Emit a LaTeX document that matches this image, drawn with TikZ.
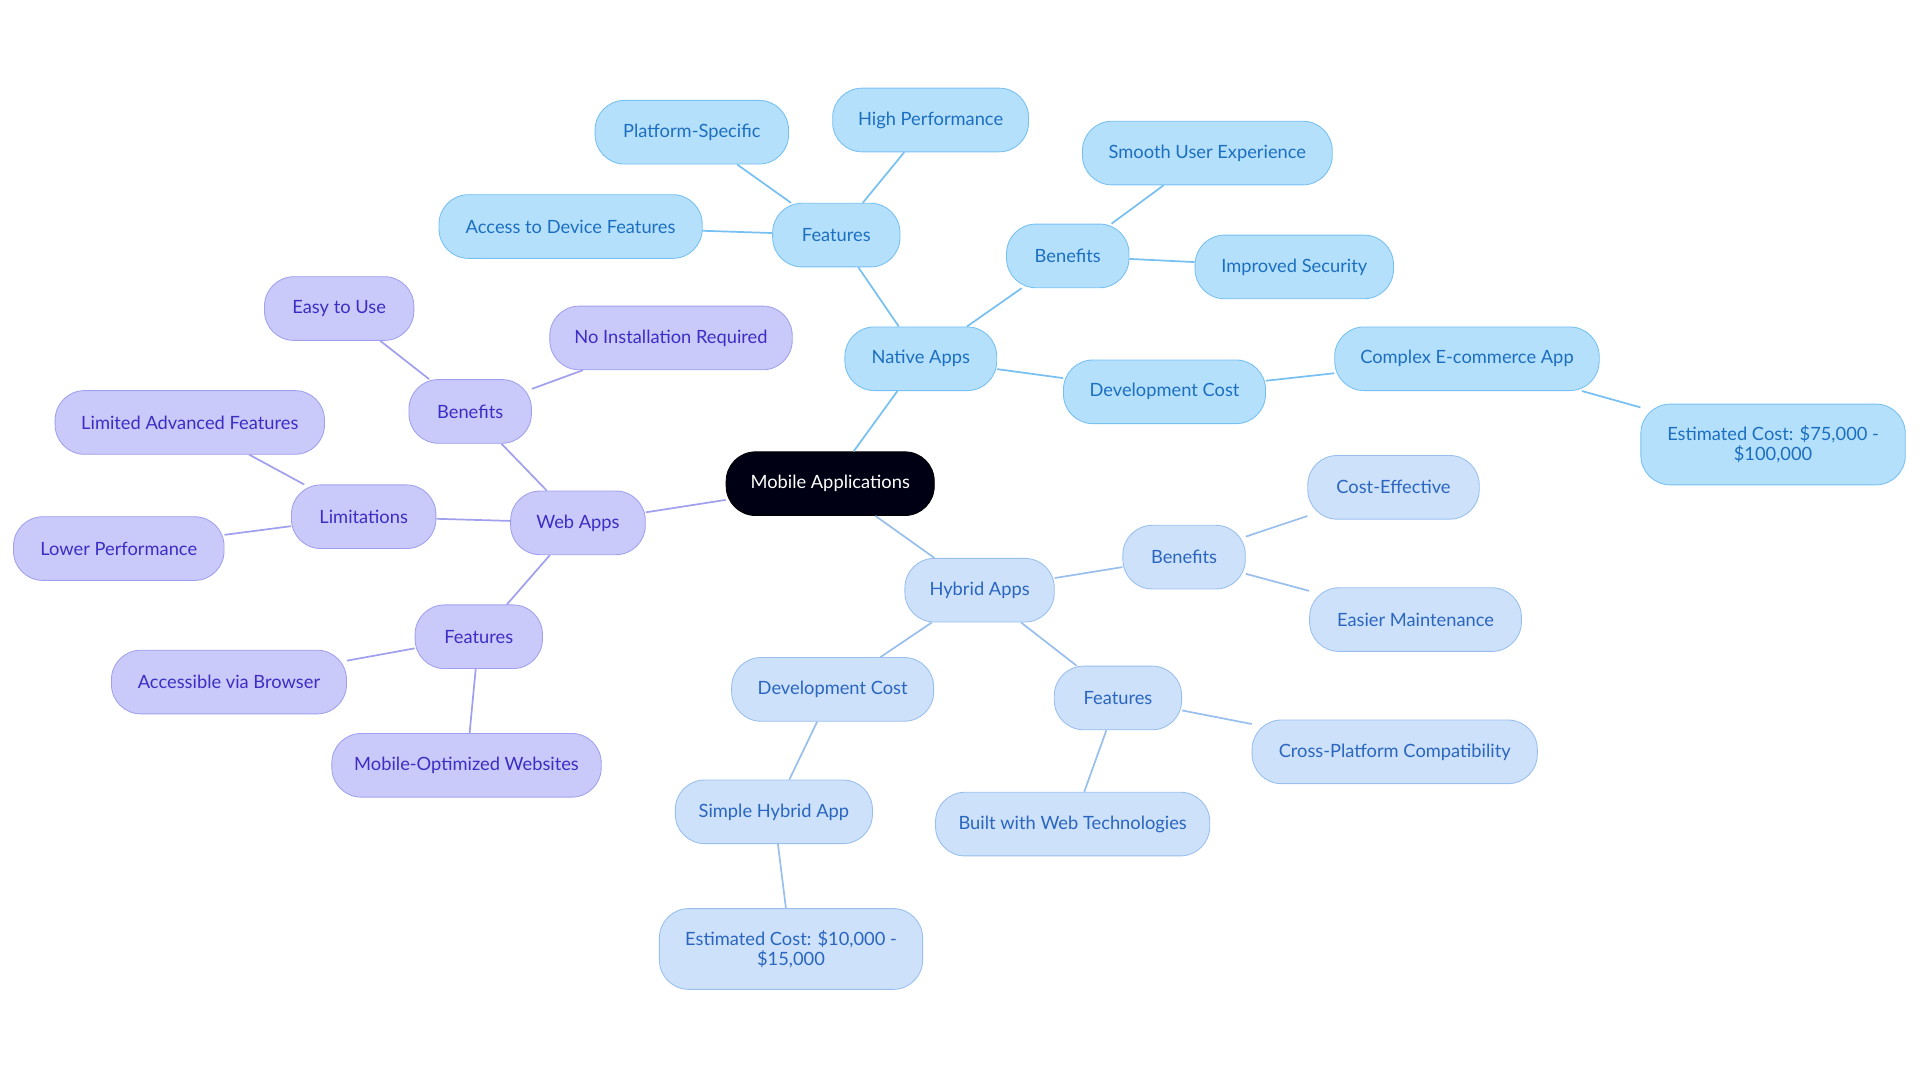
\documentclass[tikz,border=0pt]{standalone}
\usepackage{fontspec}
\setmainfont{Lato}
\definecolor{natfill}{HTML}{B5E0FC}
\definecolor{natline}{HTML}{76C0F2}
\definecolor{nattext}{HTML}{1C6FC0}
\definecolor{hybfill}{HTML}{CDE1FA}
\definecolor{hybline}{HTML}{98BFEE}
\definecolor{hybtext}{HTML}{2A66C0}
\definecolor{webfill}{HTML}{CACAFA}
\definecolor{webline}{HTML}{A0A0EE}
\definecolor{webtext}{HTML}{3A2EC4}
\begin{document}
\begin{tikzpicture}[x=0.02cm,y=-0.02cm,
    box/.style={draw,rounded corners=0.48cm,minimum height=1.04cm,align=center,
      font=\fontsize{8.5}{9.5}\selectfont,inner xsep=0pt},
    nat/.style={box,fill=natfill,draw=natline,text=nattext},
    hyb/.style={box,fill=hybfill,draw=hybline,text=hybtext},
    web/.style={box,fill=webfill,draw=webline,text=webtext},
    natl/.style={natline,thick},
    hybl/.style={hybline,thick},
    webl/.style={webline,thick}]
  \useasboundingbox (0,0) rectangle (1568,884);
  \node[box,fill=black!92!blue,text=white,minimum width=3.4cm] (root) at (678,395) {Mobile Applications};
  % native apps
  \node[nat,minimum width=2.48cm] (native) at (752,293) {Native Apps};
  \node[nat,minimum width=2.08cm] (nfeat) at (683,192) {Features};
  \node[nat,minimum width=3.16cm] (platform) at (565,108) {Platform-Specific};
  \node[nat,minimum width=3.2cm] (perf) at (760,98) {High Performance};
  \node[nat,minimum width=4.3cm] (device) at (466,185) {Access to Device Features};
  \node[nat,minimum width=2cm] (nben) at (872,209) {Benefits};
  \node[nat,minimum width=4.08cm] (smooth) at (986,125) {Smooth User Experience};
  \node[nat,minimum width=3.24cm] (secure) at (1057,218) {Improved Security};
  \node[nat,minimum width=3.3cm] (ncost) at (951,320) {Development Cost};
  \node[nat,minimum width=4.32cm] (complex) at (1198,293) {Complex E-commerce App};
  \node[nat,minimum width=4.32cm,minimum height=1.32cm] (nest) at (1448,363) {Estimated Cost: \$75,000 -\\\$100,000};
  % web apps
  \node[web,minimum width=2.2cm] (webapps) at (472,427) {Web Apps};
  \node[web,minimum width=2cm] (wben) at (384,336) {Benefits};
  \node[web,minimum width=2.44cm] (easy) at (277,252) {Easy to Use};
  \node[web,minimum width=3.96cm] (noinst) at (548,276) {No Installation Required};
  \node[web,minimum width=2.36cm] (limits) at (297,422) {Limitations};
  \node[web,minimum width=4.4cm] (limadv) at (155,345) {Limited Advanced Features};
  \node[web,minimum width=3.44cm] (lowperf) at (97,448) {Lower Performance};
  \node[web,minimum width=2.08cm] (wfeat) at (391,520) {Features};
  \node[web,minimum width=3.84cm] (browser) at (187,557) {Accessible via Browser};
  \node[web,minimum width=4.4cm] (mobopt) at (381,625) {Mobile-Optimized Websites};
  % hybrid apps
  \node[hyb,minimum width=2.44cm] (hybrid) at (800,482) {Hybrid Apps};
  \node[hyb,minimum width=2cm] (hben) at (967,455) {Benefits};
  \node[hyb,minimum width=2.8cm] (costeff) at (1138,398) {Cost-Effective};
  \node[hyb,minimum width=3.46cm] (maint) at (1156,506) {Easier Maintenance};
  \node[hyb,minimum width=2.08cm] (hfeat) at (913,570) {Features};
  \node[hyb,minimum width=4.66cm] (cross) at (1139,614) {Cross-Platform Compatibility};
  \node[hyb,minimum width=4.48cm] (webtech) at (876,673) {Built with Web Technologies};
  \node[hyb,minimum width=3.3cm] (hcost) at (680,563) {Development Cost};
  \node[hyb,minimum width=3.22cm] (simple) at (632,663) {Simple Hybrid App};
  \node[hyb,minimum width=4.3cm,minimum height=1.32cm] (hest) at (646,775) {Estimated Cost: \$10,000 -\\\$15,000};
  % connectors
  \draw[natl] (root) -- (native);
  \draw[natl] (native) -- (nfeat);
  \draw[natl] (nfeat) -- (platform);
  \draw[natl] (nfeat) -- (perf);
  \draw[natl] (nfeat) -- (device);
  \draw[natl] (native) -- (nben);
  \draw[natl] (nben) -- (smooth);
  \draw[natl] (nben) -- (secure);
  \draw[natl] (native) -- (ncost);
  \draw[natl] (ncost) -- (complex);
  \draw[natl] (complex) -- (nest);
  \draw[webl] (root) -- (webapps);
  \draw[webl] (webapps) -- (wben);
  \draw[webl] (wben) -- (easy);
  \draw[webl] (wben) -- (noinst);
  \draw[webl] (webapps) -- (limits);
  \draw[webl] (limits) -- (limadv);
  \draw[webl] (limits) -- (lowperf);
  \draw[webl] (webapps) -- (wfeat);
  \draw[webl] (wfeat) -- (browser);
  \draw[webl] (wfeat) -- (mobopt);
  \draw[hybl] (root) -- (hybrid);
  \draw[hybl] (hybrid) -- (hben);
  \draw[hybl] (hben) -- (costeff);
  \draw[hybl] (hben) -- (maint);
  \draw[hybl] (hybrid) -- (hfeat);
  \draw[hybl] (hfeat) -- (cross);
  \draw[hybl] (hfeat) -- (webtech);
  \draw[hybl] (hybrid) -- (hcost);
  \draw[hybl] (hcost) -- (simple);
  \draw[hybl] (simple) -- (hest);
\end{tikzpicture}
\end{document}
